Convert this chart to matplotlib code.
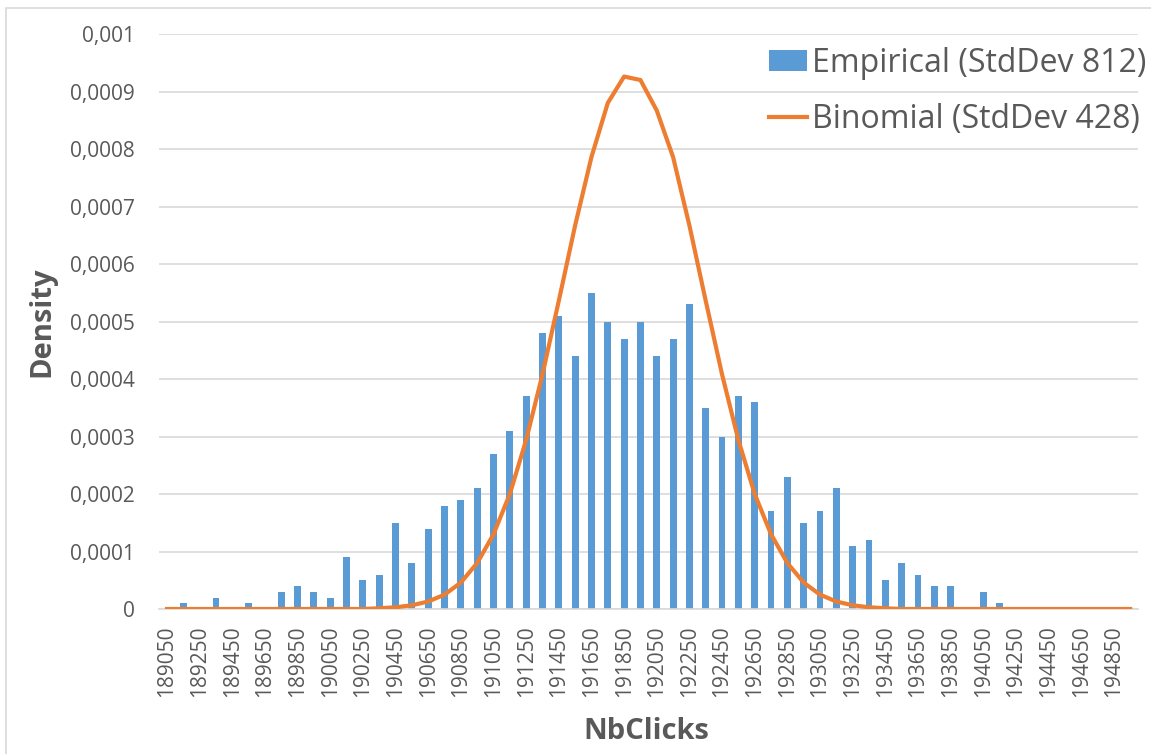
import matplotlib
matplotlib.use('Agg')
import matplotlib.pyplot as plt
from matplotlib.patches import Rectangle

plt.rcParams['font.family'] = ['Open Sans', 'DejaVu Sans']

# categories: NbClicks bins, step 100
nbclicks = list(range(189050, 195000, 100))

empirical = [0, 0.00001, 0, 0.00002, 0, 0.00001, 0, 0.00003, 0.00004, 0.00003,
             0.00002, 0.00009, 0.00005, 0.00006, 0.00015, 0.00008, 0.00014, 0.00018, 0.00019, 0.00021,
             0.00027, 0.00031, 0.00037, 0.00048, 0.00051, 0.00044, 0.00055, 0.0005, 0.00047, 0.0005,
             0.00044, 0.00047, 0.00053, 0.00035, 0.0003, 0.00037, 0.00036, 0.00017, 0.00023, 0.00015,
             0.00017, 0.00021, 0.00011, 0.00012, 0.00005, 0.00008, 0.00006, 0.00004, 0.00004, 0,
             0.00003, 0.00001, 0, 0, 0, 0, 0, 0, 0, 0]

binomial = [0, 0, 0, 0, 0, 0, 0, 0, 0, 0,
            0, 0, 0, 0.0000013, 0.000003, 0.0000065, 0.000013, 0.000025, 0.000046, 0.00008,
            0.00013, 0.0002, 0.000294, 0.000408, 0.000536, 0.000667, 0.000786, 0.00088, 0.000926, 0.00092,
            0.000867, 0.000786, 0.000667, 0.000536, 0.000408, 0.000294, 0.0002, 0.00013, 0.00008, 0.000046,
            0.000025, 0.000013, 0.0000065, 0.000003, 0.0000013, 0, 0, 0, 0, 0,
            0, 0, 0, 0, 0, 0, 0, 0, 0, 0]

yticks = [0, 0.0001, 0.0002, 0.0003, 0.0004, 0.0005, 0.0006, 0.0007, 0.0008, 0.0009, 0.001]
ylabels = ['0', '0,0001', '0,0002', '0,0003', '0,0004', '0,0005',
           '0,0006', '0,0007', '0,0008', '0,0009', '0,001']

grey = '#595959'
fig = plt.figure(figsize=(11.51, 7.54), dpi=100)
ax = fig.add_axes([0.138, 0.1923, 0.851, 0.7626])

x = list(range(len(nbclicks)))
bars = ax.bar(x, empirical, width=0.42, color='#5b9bd5', zorder=2)
line, = ax.plot(x, binomial, color='#ed7d31', lw=3, zorder=3)

ax.set_xlim(-0.5, len(nbclicks) - 0.5)
ax.set_ylim(0, 0.001)
ax.set_yticks(yticks)
ax.set_yticklabels(ylabels)
ax.set_xticks(x[::2])
ax.set_xticklabels([str(v) for v in nbclicks[::2]])
ax.tick_params(axis='y', length=0, pad=17, labelsize=15, labelcolor=grey)
ax.tick_params(axis='x', length=0, pad=12, labelsize=15, labelcolor=grey, labelrotation=90)
ax.grid(axis='y', color='#d9d9d9', lw=1.2, zorder=0)
for s in ['top', 'right', 'left']:
    ax.spines[s].set_visible(False)
ax.spines['bottom'].set_color('#d9d9d9')
ax.spines['bottom'].set_linewidth(1.2)

ax.set_ylabel('Density', fontsize=21, fontweight='bold', color=grey)
ax.set_xlabel('NbClicks', fontsize=21, fontweight='bold', color=grey)
ax.yaxis.set_label_coords(-0.105, 0.5)
ax.xaxis.set_label_coords(0.498, -0.188)

leg = fig.legend([bars, line], ['Empirical (StdDev 812)', 'Binomial (StdDev 428)'],
                 loc='upper right', bbox_to_anchor=(1146 / 1151, 1 - 47 / 754), frameon=False,
                 fontsize=23, handlelength=1.2, handleheight=0.62, handletextpad=0.15,
                 labelspacing=0.72, borderpad=0, borderaxespad=0)
for t in leg.get_texts():
    t.set_color(grey)

# outer chart border
fig.patches.append(Rectangle((6 / 1151, -0.01), 1.0, 1 - 8 / 754 + 0.01, transform=fig.transFigure,
                             fill=False, edgecolor='#d9d9d9', lw=1.2))

fig.savefig('out.png', dpi=100)
